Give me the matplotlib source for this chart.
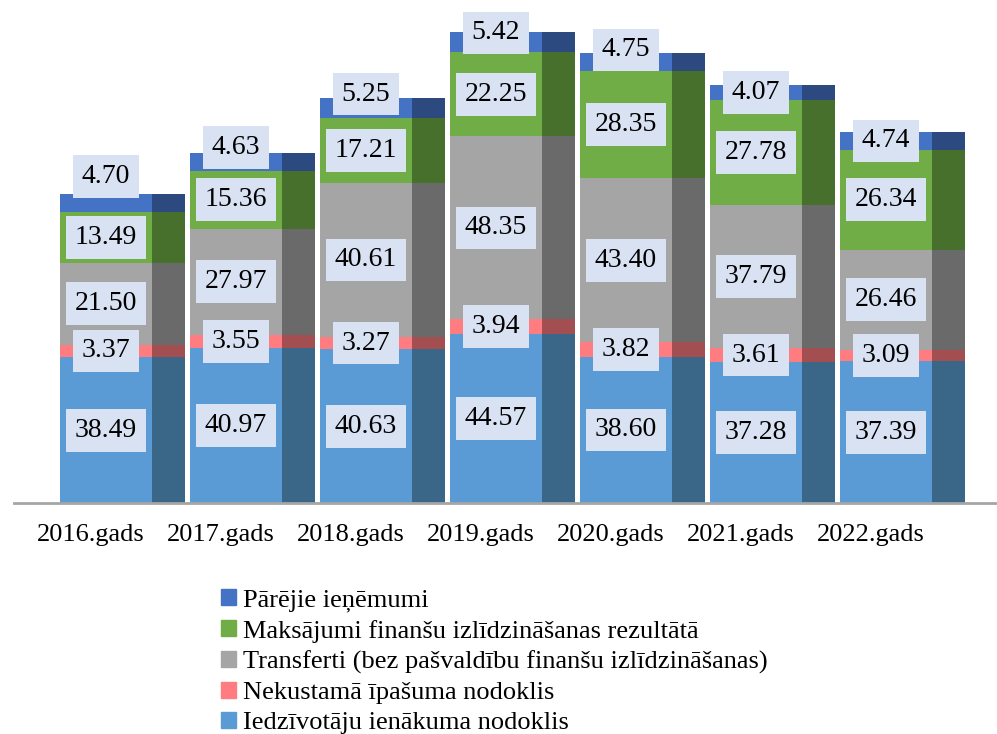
import matplotlib.pyplot as plt
import numpy as np
import matplotlib.patches as mpatches

plt.rcParams['font.family'] = ['Liberation Serif', 'DejaVu Serif']

# --- Data ---
years = ["2016.gads", "2017.gads", "2018.gads", "2019.gads", "2020.gads", "2021.gads", "2022.gads"]
iedzivotaju = [38.49, 40.97, 40.63, 44.57, 38.60, 37.28, 37.39]
nekustama = [3.37, 3.55, 3.27, 3.94, 3.82, 3.61, 3.09]
transferti = [21.50, 27.97, 40.61, 48.35, 43.40, 37.79, 26.46]
maksajumi = [13.49, 15.36, 17.21, 22.25, 28.35, 27.78, 26.34]
parejie = [4.70, 4.63, 5.25, 5.42, 4.75, 4.07, 4.74]

series_names = ["Iedzīvotāju ienākuma nodoklis", "Nekustamā īpašuma nodoklis",
                "Transferti (bez pašvaldību finanšu izlīdzināšanas)",
                "Maksājumi finanšu izlīdzināšanas rezultātā", "Pārējie ieņēmumi"]
series = [iedzivotaju, nekustama, transferti, maksajumi, parejie]

# --- Style ---
front_colors = ["#5B9BD5", "#FF7C80", "#A5A5A5", "#70AD47", "#4472C4"]
side_colors = ["#3A6688", "#A34F52", "#6A6A6A", "#48702D", "#2C4A7F"]
box_color = "#D9E2F3"
# Excel nudged the top labels upward (pixels)
top_nudge_px = [27, 14, 14, 9, 12, 0, 0]

front_w = 0.708
side_w = 0.254

fig = plt.figure(figsize=(9.97, 7.34), dpi=100)
ax = fig.add_axes([14/997, 1 - 503/734, 1 - 14/997, 503/734])

x = np.arange(len(years))
bottom = np.zeros(len(years))
for k, vals in enumerate(series):
    vals = np.array(vals)
    ax.bar(x, vals, width=front_w, bottom=bottom, color=front_colors[k], linewidth=0, zorder=2)
    ax.bar(x + front_w/2 + side_w/2, vals, width=side_w, bottom=bottom,
           color=side_colors[k], linewidth=0, zorder=2)
    for i, v in enumerate(vals):
        dy = top_nudge_px[i] * 0.72 if k == len(series) - 1 else 0
        ax.annotate(f"{v:.2f}", (x[i], bottom[i] + v/2), xytext=(0, dy),
                    textcoords="offset points", ha="center", va="center",
                    fontsize=20, color="black", zorder=5,
                    bbox=dict(boxstyle="square,pad=0.32", fc=box_color, ec="none"))
    bottom += vals

ax.set_xlim(-0.708, 6.854)
ax.set_ylim(0, 132.9)
for s in ["top", "right", "left"]:
    ax.spines[s].set_visible(False)
ax.spines["bottom"].set_color("#A6A6A6")
ax.spines["bottom"].set_linewidth(2)
ax.set_yticks([])
ax.set_xticks(x - 0.12)
ax.set_xticklabels(years, fontsize=19)
ax.tick_params(axis="x", length=0, pad=15)

handles = [mpatches.Patch(color=front_colors[k], label=series_names[k]) for k in range(len(series))][::-1]
fig.legend(handles=handles, loc="upper left", bbox_to_anchor=(221/997, 1 - 589/734),
           frameon=False, fontsize=19, handlelength=0.55, handleheight=0.55,
           handletextpad=0.27, labelspacing=0.3, borderaxespad=0, borderpad=0)

fig.savefig("out.png", dpi=100)
